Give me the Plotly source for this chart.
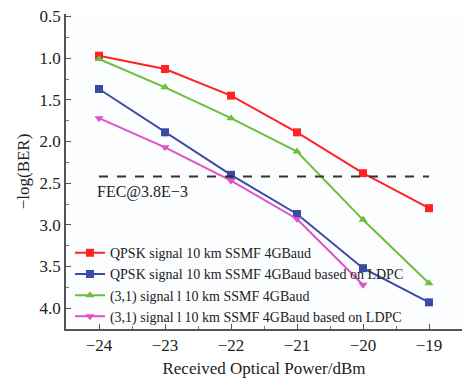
import plotly.graph_objects as go

power = [-24, -23, -22, -21, -20, -19]
qpsk = [0.97, 1.13, 1.45, 1.89, 2.38, 2.80]
qpsk_ldpc = [1.37, 1.89, 2.40, 2.87, 3.52, 3.93]
s31 = [1.01, 1.35, 1.72, 2.12, 2.94, 3.70]
s31_ldpc = [1.72, 2.07, 2.47, 2.93, 3.72]
power_s31_ldpc = [-24, -23, -22, -21, -20]
fec_x = [-24, -19]
fec_y = [2.42, 2.42]

names = [
    "QPSK signal 10 km SSMF 4GBaud",
    "QPSK signal 10 km SSMF 4GBaud based on LDPC",
    "(3,1) signal l 10 km SSMF 4GBaud",
    "(3,1) signal l 10 km SSMF 4GBaud based on LDPC",
]
colors = ["#ff2424", "#3a4aa6", "#6cbf3a", "#d955c8"]
symbols = ["square", "square", "triangle-up", "triangle-down"]
xs = [power, power, power, power_s31_ldpc]
ys = [qpsk, qpsk_ldpc, s31, s31_ldpc]

font = "Liberation Serif"
fig = go.Figure()
for x, y, n, c, s in zip(xs, ys, names, colors, symbols):
    fig.add_trace(go.Scatter(x=x, y=y, name=n, mode="lines+markers",
                             line=dict(color=c, width=2),
                             marker=dict(symbol=s, size=8, color=c)))
fig.add_trace(go.Scatter(x=fec_x, y=fec_y, mode="lines", showlegend=False,
                         line=dict(color="#333333", width=1.8, dash="dash")))
fig.add_annotation(x=-24.06, y=2.61, text="FEC@3.8E−3", showarrow=False,
                   xanchor="left", font=dict(family=font, size=16, color="#222"))

axcommon = dict(showgrid=False, zeroline=False, showline=True, linecolor="#555",
                linewidth=1.5, ticks="inside", ticklen=5, tickcolor="#555",
                tickfont=dict(family=font, size=17, color="#222"))
fig.update_xaxes(range=[-24.5, -18.5], dtick=1, tick0=-24,
                 minor=dict(dtick=0.5, ticks="inside", ticklen=3, tickcolor="#777"),
                 title=dict(text="Received Optical Power/dBm", font=dict(family=font, size=17, color="#222"), standoff=8),
                 **axcommon)
fig.update_yaxes(range=[4.25, 0.47], dtick=0.5, tick0=0.5, tickformat=".1f",
                 minor=dict(dtick=0.25, ticks="inside", ticklen=3, tickcolor="#777"),
                 title=dict(text="−log(BER)", font=dict(family=font, size=17, color="#222"), standoff=6),
                 **axcommon)
fig.update_layout(
    width=469, height=382,
    margin=dict(l=66, r=7, t=13, b=51),
    font=dict(family=font, color="#222"),
    paper_bgcolor="white", plot_bgcolor="#fcfdfe",
    legend=dict(x=0.01, y=-0.01, xanchor="left", yanchor="bottom",
                bgcolor="rgba(0,0,0,0)", font=dict(family=font, size=14, color="#222"),
                tracegroupgap=0, itemwidth=30),
)
fig.write_html("out.html")
